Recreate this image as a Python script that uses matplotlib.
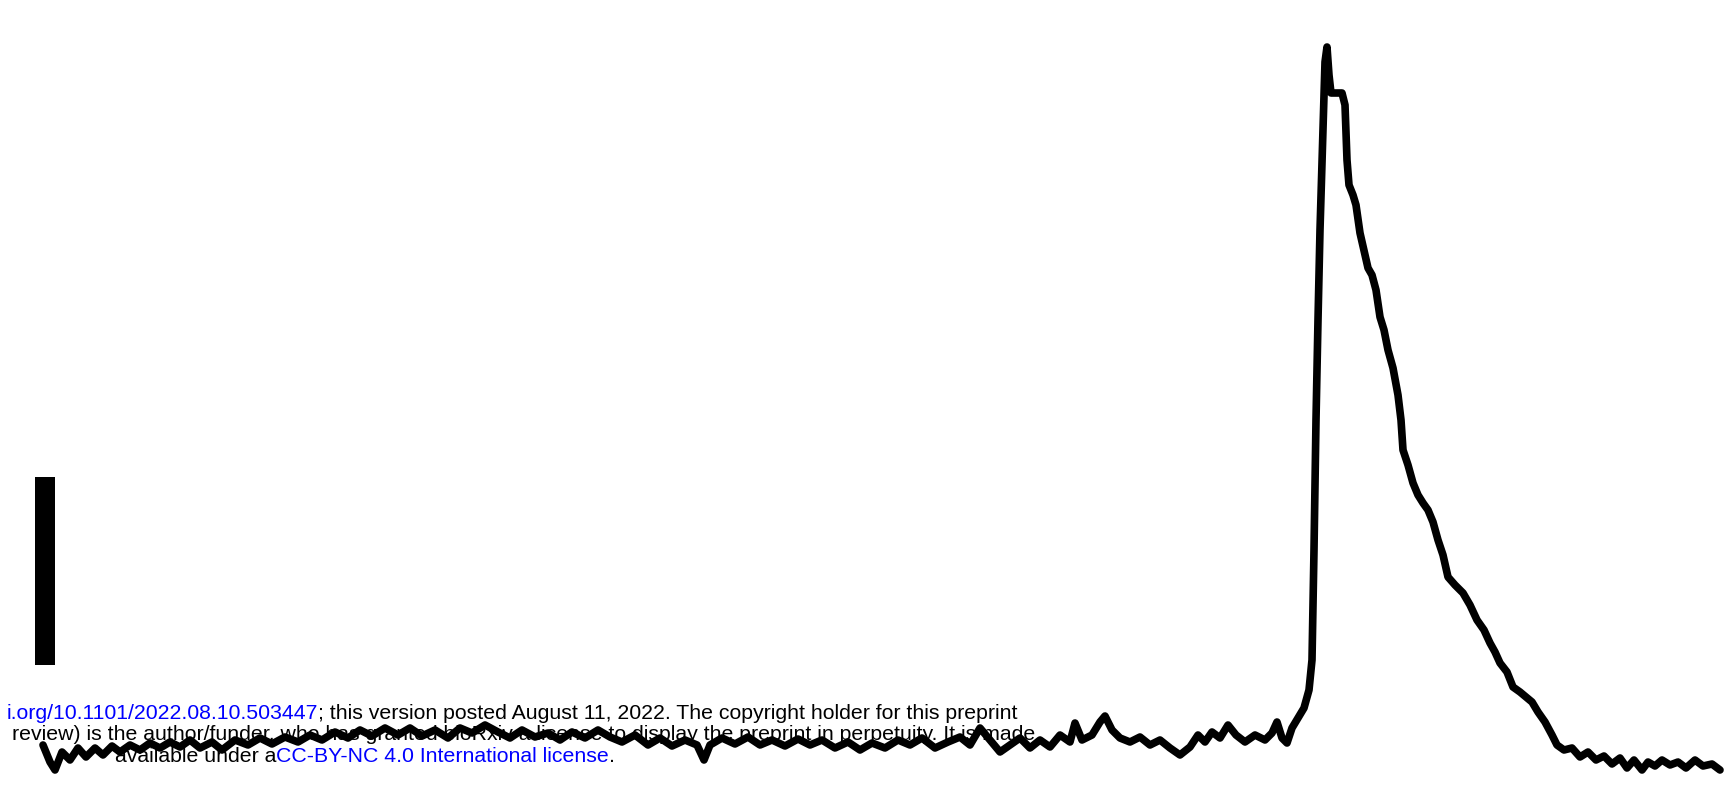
import matplotlib.pyplot as plt

# trace, pixel coordinates (y grows downwards)
trace_x = [43, 50, 55, 62, 70, 78, 86, 95, 103, 112, 120, 130, 140, 150, 160, 170, 180, 190, 200, 212,
           222, 235, 248, 260, 272, 285, 298, 310, 322, 335, 348, 360, 372, 385, 398, 410, 422, 435, 448, 460,
           472, 485, 498, 510, 522, 535, 548, 560, 572, 585, 598, 610, 622, 635, 648, 660, 672, 685, 697, 704,
           710, 722, 735, 748, 760, 772, 785, 798, 810, 822, 835, 848, 860, 872, 885, 898, 910, 922, 935, 948,
           960, 970, 980, 990, 1000, 1010, 1020, 1030, 1040, 1050, 1060, 1070, 1075, 1082, 1092, 1100, 1105, 1112, 1120, 1130,
           1140, 1150, 1160, 1170, 1180, 1190, 1198, 1205, 1212, 1220, 1228, 1236, 1245, 1255, 1265, 1272, 1277, 1282, 1287, 1292,
           1298, 1304, 1309, 1312, 1314, 1316, 1318, 1320, 1323, 1325, 1327, 1329, 1331, 1342, 1345, 1347, 1349, 1353, 1356, 1360,
           1365, 1368, 1372, 1376, 1380, 1384, 1388, 1393, 1398, 1401, 1403, 1408, 1413, 1418, 1423, 1428, 1433, 1438, 1443, 1448,
           1455, 1463, 1470, 1477, 1484, 1490, 1495, 1500, 1507, 1513, 1520, 1526, 1532, 1538, 1545, 1552, 1557, 1564, 1572, 1580,
           1588, 1596, 1604, 1612, 1620, 1627, 1634, 1642, 1648, 1655, 1662, 1670, 1678, 1686, 1695, 1703, 1712, 1720]
trace_y = [745, 762, 770, 752, 760, 748, 757, 748, 755, 746, 752, 745, 750, 743, 748, 742, 747, 740, 748, 742,
           750, 740, 745, 738, 744, 737, 742, 735, 740, 732, 738, 730, 736, 728, 735, 728, 736, 730, 738, 728,
           733, 725, 732, 738, 730, 737, 733, 740, 732, 738, 730, 737, 742, 735, 745, 738, 746, 740, 745, 760,
           745, 738, 744, 737, 745, 740, 746, 739, 745, 740, 748, 742, 750, 743, 748, 740, 745, 738, 748, 742,
           737, 745, 728, 740, 752, 745, 738, 748, 740, 747, 735, 742, 723, 740, 735, 722, 716, 730, 738, 742,
           737, 745, 740, 748, 755, 747, 735, 742, 732, 738, 725, 735, 742, 735, 740, 733, 722, 738, 743, 728,
           718, 708, 690, 660, 550, 420, 320, 230, 130, 62, 47, 75, 93, 93, 105, 160, 185, 195, 205, 233,
           255, 268, 275, 290, 317, 330, 350, 368, 395, 420, 450, 465, 483, 495, 503, 510, 522, 540, 555, 577,
           585, 593, 605, 620, 630, 643, 652, 663, 672, 687, 692, 697, 702, 712, 722, 735, 745, 750, 748, 757,
           752, 760, 756, 764, 758, 768, 760, 770, 762, 766, 760, 765, 762, 768, 760, 766, 764, 770]

# vertical scale bar
bar_x = 45
bar_top = 477
bar_bottom = 665

# bioRxiv watermark lines (text, colour)
line1 = [("i.org/10.1101/2022.08.10.503447", "blue"),
         ("; this version posted August 11, 2022. The copyright holder for this preprint", "black")]
line2 = [("review) is the author/funder, who has granted bioRxiv a license to display the preprint in perpetuity. It is made", "black")]
line3 = [("available under a", "black"), ("CC-BY-NC 4.0 International license", "blue"), (".", "black")]

fig = plt.figure(figsize=(17.29, 7.88), dpi=100)
ax = fig.add_axes([0, 0, 1, 1])
ax.set_xlim(0, 1729)
ax.set_ylim(788, 0)
ax.axis('off')

ax.plot(trace_x, trace_y, color='black', lw=5.5, solid_joinstyle='round', solid_capstyle='round')
ax.bar(bar_x, bar_bottom - bar_top, bottom=bar_top, width=20, color='black')

renderer = fig.canvas.get_renderer()


def put_line(pieces, x, y, anchor='left'):
    # draw coloured pieces one after another on a baseline
    texts = []
    for s, c in pieces:
        t = ax.text(0, y, s, color=c, fontsize=15.3, family='Liberation Sans', va='baseline', ha='left', zorder=5)
        texts.append(t)
    widths = [t.get_window_extent(renderer).width for t in texts]
    if anchor == 'right':
        x = x - sum(widths)
    for t, w in zip(texts, widths):
        t.set_x(x)
        x += w


put_line(line1, 1018, 719, anchor='right')
put_line(line2, 1035, 740, anchor='right')
put_line(line3, 115, 762)

fig.savefig('out.png', dpi=100)
